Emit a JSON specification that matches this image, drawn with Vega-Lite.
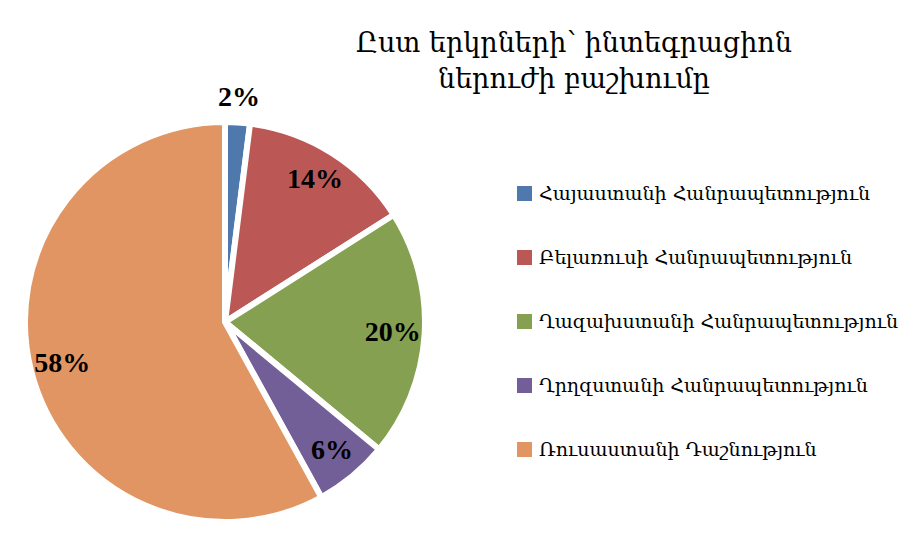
{
  "$schema": "https://vega.github.io/schema/vega-lite/v6.json",
  "autosize": {"type": "none"},
  "width": 450,
  "height": 400,
  "padding": {"left": 0, "top": 122, "right": 449, "bottom": 12},
  "background": "white",
  "config": {"view": {"stroke": null}},
  "title": {
    "text": ["Ըստ երկրների՝ ինտեգրացիոն", "ներուժի բաշխումը"],
    "orient": "top",
    "anchor": "middle",
    "frame": "group",
    "dx": 349,
    "offset": -10,
    "font": "DejaVu Serif",
    "fontSize": 27,
    "fontWeight": "normal",
    "lineHeight": 36,
    "color": "#000000"
  },
  "data": {
    "values": [
      {"country": "Հայաստանի Հանրապետություն", "share": 2, "label": "2%", "rank": 1},
      {"country": "Բելառուսի Հանրապետություն", "share": 14, "label": "14%", "rank": 2},
      {"country": "Ղազախստանի Հանրապետություն", "share": 20, "label": "20%", "rank": 3},
      {"country": "Ղրղզստանի Հանրապետություն", "share": 6, "label": "6%", "rank": 4},
      {"country": "Ռուսաստանի Դաշնություն", "share": 58, "label": "58%", "rank": 5}
    ]
  },
  "encoding": {
    "theta": {"field": "share", "type": "quantitative", "stack": true},
    "order": {"field": "rank", "type": "quantitative"}
  },
  "layer": [
    {
      "mark": {"type": "arc", "outerRadius": 200, "stroke": "white", "strokeWidth": 6},
      "encoding": {
        "color": {
          "field": "country",
          "type": "nominal",
          "sort": null,
          "scale": {
            "domain": ["Հայաստանի Հանրապետություն", "Բելառուսի Հանրապետություն", "Ղազախստանի Հանրապետություն", "Ղրղզստանի Հանրապետություն", "Ռուսաստանի Դաշնություն"],
            "range": ["#4f78ac", "#bb5855", "#84a050", "#735f98", "#e19563"]
          },
          "legend": {
            "orient": "none",
            "legendX": 515,
            "legendY": 62,
            "title": null,
            "symbolType": "square",
            "symbolSize": 225,
            "symbolStrokeWidth": 0,
            "labelFont": "DejaVu Serif",
            "labelFontSize": 19,
            "labelColor": "#000000",
            "labelLimit": 400,
            "labelOffset": 5,
            "rowPadding": 44
          }
        }
      }
    },
    {
      "mark": {"type": "text", "radius": 168, "font": "Liberation Serif", "fontWeight": "bold", "fontSize": 28, "color": "#000000"},
      "encoding": {
        "text": {"condition": {"test": "datum.share < 5", "value": ""}, "field": "label", "type": "nominal"}
      }
    },
    {
      "mark": {"type": "text", "radius": 224, "font": "Liberation Serif", "fontWeight": "bold", "fontSize": 28, "color": "#000000"},
      "encoding": {
        "text": {"condition": {"test": "datum.share >= 5", "value": ""}, "field": "label", "type": "nominal"}
      }
    }
  ]
}
